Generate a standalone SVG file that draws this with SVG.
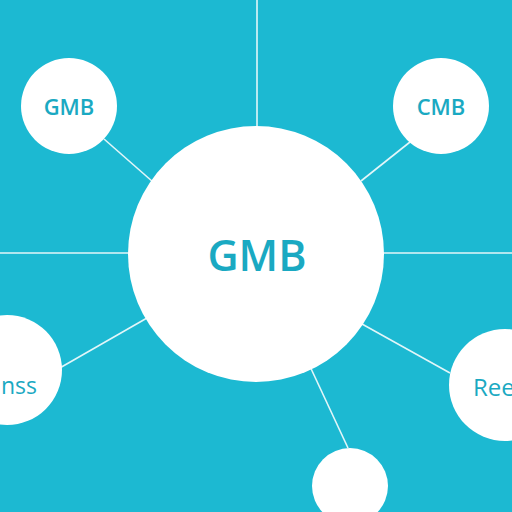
<svg xmlns="http://www.w3.org/2000/svg" width="512" height="512" viewBox="0 0 512 512">
<style>
.node{fill:#ffffff}
.lbl{font-family:"Open Sans","Liberation Sans",sans-serif;fill:#1aa9c2;text-anchor:middle;dominant-baseline:central;font-weight:600}
.conn line{stroke:#e2f6f9;stroke-width:1.6}
</style>
<rect width="512" height="512" fill="#1cb9d2"/>
<g id="connectors" class="conn">
<line x1="257" y1="0" x2="257" y2="127"/>
<line x1="0" y1="253" x2="130" y2="253"/>
<line x1="382" y1="253" x2="512" y2="253"/>
<line x1="104" y1="139" x2="153" y2="182"/>
<line x1="410" y1="142" x2="361" y2="181"/>
<line x1="58" y1="369" x2="147" y2="318"/>
<line x1="362" y1="324" x2="450" y2="373"/>
<line x1="307" y1="360" x2="348" y2="448"/>
</g>
<g id="center">
<circle class="node" cx="256" cy="254" r="128"/>
<text class="lbl" x="257" y="254" font-size="43">GMB</text>
</g>
<g id="top-left">
<circle class="node" cx="69" cy="106" r="48"/>
<text class="lbl" x="69" y="106" font-size="22">GMB</text>
</g>
<g id="top-right">
<circle class="node" cx="441" cy="106" r="48"/>
<text class="lbl" x="441" y="106" font-size="22">CMB</text>
</g>
<g id="left">
<circle class="node" cx="7" cy="370" r="55"/>
<text class="lbl" x="37" y="385" font-size="23" style="text-anchor:end;font-weight:500">anss</text>
</g>
<g id="right">
<circle class="node" cx="505" cy="385" r="56"/>
<text class="lbl" x="473" y="386" font-size="24" style="text-anchor:start;font-weight:500">Ree</text>
</g>
<g id="bottom">
<circle class="node" cx="350" cy="486" r="38"/>
</g>
</svg>
